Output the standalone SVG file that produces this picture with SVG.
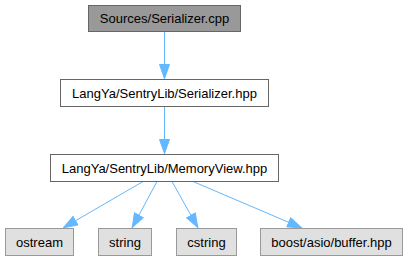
<svg xmlns="http://www.w3.org/2000/svg" width="408" height="261" viewBox="0 0 408 261">
  <style>
    .lbl { font-family: "Liberation Sans", Arial, sans-serif; font-size: 13px; fill: #000; text-anchor: middle; }
    .root rect { fill: #999999; stroke: #666666; }
    .hdr rect { fill: #ffffff; stroke: #666666; }
    .sys rect { fill: #e0e0e0; stroke: #999999; }
    .edge { fill: none; stroke: #63b8ff; stroke-width: 1; }
  </style>
  <defs>
    <marker id="arrow" viewBox="0 0 15 11" refX="15" refY="5.5" markerWidth="15" markerHeight="11" markerUnits="userSpaceOnUse" orient="auto">
      <path d="M0.5,0.5 L14.5,5.5 L0.5,10.5 Z" fill="#63b8ff" stroke="#63b8ff"/>
    </marker>
  </defs>
  <rect width="408" height="261" fill="#ffffff"/>

  <g id="connectors">
    <path class="edge" d="M164.5,32 L164.5,79" marker-end="url(#arrow)"/>
    <path class="edge" d="M164.5,107 L164.5,154" marker-end="url(#arrow)"/>
    <path class="edge" d="M143,181.5 L63,228" marker-end="url(#arrow)"/>
    <path class="edge" d="M157,181.5 L132,228" marker-end="url(#arrow)"/>
    <path class="edge" d="M172,181.5 L198,228" marker-end="url(#arrow)"/>
    <path class="edge" d="M193,181.5 L302,228" marker-end="url(#arrow)"/>
  </g>

  <g id="node-serializer-cpp" class="root">
    <rect x="88.5" y="5.5" width="152" height="26"/>
    <text class="lbl" x="164.5" y="23">Sources/Serializer.cpp</text>
  </g>
  <g id="node-serializer-hpp" class="hdr">
    <rect x="60.5" y="79.5" width="208" height="27"/>
    <text class="lbl" x="164.5" y="97.5">LangYa/SentryLib/Serializer.hpp</text>
  </g>
  <g id="node-memoryview-hpp" class="hdr">
    <rect x="50.5" y="154.5" width="228" height="27"/>
    <text class="lbl" x="164.5" y="172.5">LangYa/SentryLib/MemoryView.hpp</text>
  </g>
  <g id="node-ostream" class="sys">
    <rect x="5.5" y="228.5" width="68" height="27"/>
    <text class="lbl" x="39.5" y="246.5">ostream</text>
  </g>
  <g id="node-string" class="sys">
    <rect x="98.5" y="228.5" width="53" height="27"/>
    <text class="lbl" x="125" y="246.5">string</text>
  </g>
  <g id="node-cstring" class="sys">
    <rect x="176.5" y="228.5" width="60" height="27"/>
    <text class="lbl" x="206.5" y="246.5">cstring</text>
  </g>
  <g id="node-buffer-hpp" class="sys">
    <rect x="260.5" y="228.5" width="142" height="27"/>
    <text class="lbl" x="331.5" y="246.5">boost/asio/buffer.hpp</text>
  </g>
</svg>
